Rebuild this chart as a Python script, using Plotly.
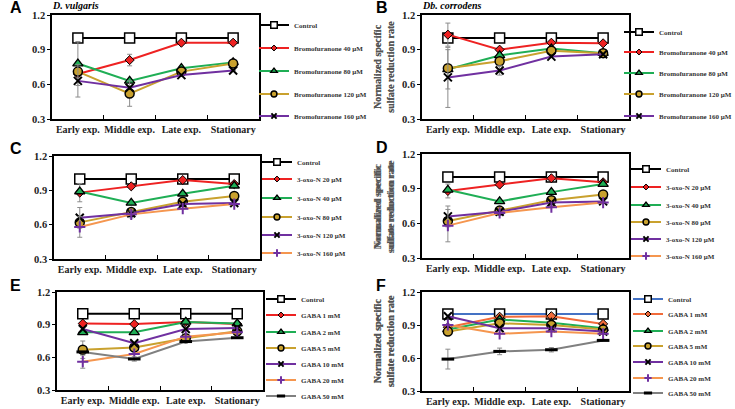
import math
import plotly.graph_objects as go

W, H = 735, 409
NaN = float("nan")

categories = ["Early exp.", "Middle exp.", "Late exp.", "Stationary"]
y_ticks = [0.3, 0.6, 0.9, 1.2]

# Panel A - D. vulgaris, bromofuranone
A_names = ["Control", "Bromofuranone 40 µM", "Bromofuranone 80 µM", "Bromofuranone 120 µM", "Bromofuranone 160 µM"]
A_control = [1.0, 1.0, 1.0, 1.0]
A_b40 = [0.69, 0.81, 0.96, 0.96]
A_b80 = [0.78, 0.63, 0.74, 0.79]
A_b120 = [0.71, 0.52, 0.71, 0.78]
A_b160 = [0.63, 0.57, 0.68, 0.72]
A_err_b40 = [NaN, 0.05, NaN, NaN]
A_err_b80 = [0.19, NaN, NaN, NaN]
A_err_b120 = [NaN, 0.11, NaN, NaN]
A_err_b160 = [0.14, NaN, NaN, NaN]

# Panel B - Db. corrodens, bromofuranone
B_names = A_names
B_control = [1.0, 1.0, 1.0, 1.0]
B_b40 = [1.03, 0.90, 0.96, 0.955]
B_b80 = [0.73, 0.85, 0.91, 0.87]
B_b120 = [0.74, 0.80, 0.89, 0.87]
B_b160 = [0.66, 0.72, 0.84, 0.86]
B_err_b40 = [0.10, NaN, NaN, NaN]
B_err_b80 = [0.17, NaN, NaN, NaN]
B_err_b160 = [0.26, 0.04, NaN, NaN]

# Panel C - 3-oxo-N
C_names = ["Control", "3-oxo-N 20 µM", "3-oxo-N 40 µM", "3-oxo-N 80 µM", "3-oxo-N 120 µM", "3-oxo-N 160 µM"]
C_control = [1.0, 1.0, 1.0, 1.0]
C_o20 = [0.88, 0.935, 0.99, 0.955]
C_o40 = [0.89, 0.79, 0.87, 0.94]
C_o80 = [0.62, 0.71, 0.80, 0.85]
C_o120 = [0.66, 0.70, 0.78, 0.79]
C_o160 = [0.58, 0.69, 0.74, 0.78]
C_err_o20 = [0.08, 0.02, NaN, NaN]
C_err_o120 = [0.09, NaN, NaN, NaN]
C_err_o160 = [0.09, 0.03, NaN, NaN]

# Panel D - 3-oxo-N
D_names = C_names
D_control = [1.0, 1.0, 1.0, 1.0]
D_o20 = [0.88, 0.935, 0.99, 0.955]
D_o40 = [0.89, 0.79, 0.87, 0.94]
D_o80 = [0.62, 0.71, 0.80, 0.85]
D_o120 = [0.66, 0.70, 0.78, 0.79]
D_o160 = [0.58, 0.69, 0.74, 0.78]
D_err_o20 = [0.06, NaN, NaN, NaN]
D_err_o120 = [0.09, NaN, NaN, NaN]
D_err_o160 = [0.14, NaN, NaN, NaN]

# Panel E - GABA
E_names = ["Control", "GABA 1 mM", "GABA 2 mM", "GABA 5 mM", "GABA 10 mM", "GABA 20 mM", "GABA 50 mM"]
E_control = [1.0, 1.0, 1.0, 1.0]
E_g1 = [0.91, 0.905, 0.925, 0.905]
E_g2 = [0.83, 0.83, 0.925, 0.91]
E_g5 = [0.67, 0.69, 0.775, 0.84]
E_g10 = [0.86, 0.73, 0.86, 0.87]
E_g20 = [0.56, 0.63, 0.79, 0.83]
E_g50 = [0.65, 0.585, 0.745, 0.78]
E_err_g5 = [0.08, NaN, NaN, NaN]
E_err_g20 = [0.06, NaN, NaN, NaN]
E_err_g50 = [NaN, 0.02, NaN, NaN]

# Panel F - GABA
F_names = E_names
F_control = [1.0, 1.0, 1.0, 1.0]
F_g1 = [0.88, 0.975, 0.98, 0.91]
F_g2 = [0.86, 0.95, 0.92, 0.87]
F_g5 = [0.84, 0.915, 0.90, 0.86]
F_g10 = [0.98, 0.87, 0.87, 0.84]
F_g20 = [0.90, 0.82, 0.84, 0.82]
F_g50 = [0.59, 0.66, 0.675, 0.76]
F_err_g50 = [0.09, 0.03, 0.02, NaN]

RED = "#EE2222"
GREEN = "#1FAE55"
GOLD = "#C9A12E"
PURPLE = "#7030A0"
ORANGE = "#F5964F"
GRAY = "#808080"
BLACK = "#000000"
BLUE = "#4472C4"

SERIF = "Liberation Serif"


def mk(kind, fill, scale=1.0):
    if kind == "square":
        return dict(symbol="square", size=10 * scale, color="white", line=dict(color=BLACK, width=1.5))
    if kind == "diamond":
        return dict(symbol="diamond", size=7 * scale, color=fill, line=dict(color=BLACK, width=1))
    if kind == "triangle":
        return dict(symbol="triangle-up", size=9 * scale, color=fill, line=dict(color=BLACK, width=1.3))
    if kind == "circle":
        return dict(symbol="circle", size=9 * scale, color=fill, line=dict(color=BLACK, width=1.5))
    if kind == "x":
        return dict(symbol="x-thin", size=8 * scale, color=BLACK, line=dict(color=BLACK, width=2))
    if kind == "cross":
        return dict(symbol="cross-thin", size=8 * scale, color=PURPLE, line=dict(color=PURPLE, width=2))
    if kind == "dash":
        return dict(symbol="line-ew", size=9 * scale, color=BLACK, line=dict(color=BLACK, width=3))


panels = [
    dict(key="A", box=(52, 259, 15, 119), legend_x=254, legend_y=[25, 48, 71, 94, 116],
         series=[(A_names[0], A_control, None, BLACK, "square"),
                 (A_names[1], A_b40, A_err_b40, RED, "diamond"),
                 (A_names[2], A_b80, A_err_b80, GREEN, "triangle"),
                 (A_names[3], A_b120, A_err_b120, GOLD, "circle"),
                 (A_names[4], A_b160, A_err_b160, PURPLE, "x")]),
    dict(key="B", box=(422, 629, 15, 119), legend_x=619, legend_y=[32, 52, 73, 94, 116],
         series=[(B_names[0], B_control, None, BLACK, "square"),
                 (B_names[1], B_b40, B_err_b40, RED, "diamond"),
                 (B_names[2], B_b80, B_err_b80, GREEN, "triangle"),
                 (B_names[3], B_b120, None, GOLD, "circle"),
                 (B_names[4], B_b160, B_err_b160, PURPLE, "x")]),
    dict(key="C", box=(54, 260, 156, 259), legend_x=257, legend_y=[162, 179, 198, 217, 235, 253],
         series=[(C_names[0], C_control, None, BLACK, "square"),
                 (C_names[1], C_o20, C_err_o20, RED, "diamond"),
                 (C_names[2], C_o40, None, GREEN, "triangle"),
                 (C_names[3], C_o80, None, GOLD, "circle"),
                 (C_names[4], C_o120, C_err_o120, PURPLE, "x"),
                 (C_names[5], C_o160, C_err_o160, ORANGE, "cross")]),
    dict(key="D", box=(422, 629, 154, 258), legend_x=626, legend_y=[169, 187, 205, 222, 239, 256],
         series=[(D_names[0], D_control, None, BLACK, "square"),
                 (D_names[1], D_o20, D_err_o20, RED, "diamond"),
                 (D_names[2], D_o40, None, GREEN, "triangle"),
                 (D_names[3], D_o80, None, GOLD, "circle"),
                 (D_names[4], D_o120, D_err_o120, PURPLE, "x"),
                 (D_names[5], D_o160, D_err_o160, ORANGE, "cross")]),
    dict(key="E", box=(57, 263, 292, 390), legend_x=261, legend_y=[299, 315, 332, 348, 364, 380, 396],
         series=[(E_names[0], E_control, None, BLACK, "square"),
                 (E_names[1], E_g1, None, RED, "diamond"),
                 (E_names[2], E_g2, None, GREEN, "triangle"),
                 (E_names[3], E_g5, E_err_g5, GOLD, "circle"),
                 (E_names[4], E_g10, None, PURPLE, "x"),
                 (E_names[5], E_g20, E_err_g20, ORANGE, "cross"),
                 (E_names[6], E_g50, E_err_g50, GRAY, "dash")]),
    dict(key="F", box=(422, 629, 292, 391), legend_x=628, legend_y=[299, 314, 331, 346, 362, 378, 393],
         series=[(F_names[0], F_control, None, BLUE, "square"),
                 (F_names[1], F_g1, None, "#F26B3A", "diamond"),
                 (F_names[2], F_g2, None, GREEN, "triangle"),
                 (F_names[3], F_g5, None, GOLD, "circle"),
                 (F_names[4], F_g10, None, PURPLE, "x"),
                 (F_names[5], F_g20, None, ORANGE, "cross"),
                 (F_names[6], F_g50, F_err_g50, GRAY, "dash")]),
]

fig = go.Figure()
layout = dict(
    width=W, height=H, autosize=False,
    margin=dict(l=0, r=0, t=0, b=0, autoexpand=False),
    paper_bgcolor="white", plot_bgcolor="white",
    showlegend=True,
    font=dict(family=SERIF, color=BLACK),
)
annotations = []
leg_idx = 0

for pi, p in enumerate(panels):
    ax = "" if pi == 0 else str(pi + 1)
    x0, x1, y0, y1 = p["box"]
    layout["xaxis" + ax] = dict(
        domain=[x0 / W, x1 / W], anchor="y" + ax, type="category",
        categoryorder="array", categoryarray=categories,
        range=[-0.5, 3.5], tickson="boundaries", ticks="inside", ticklen=4,
        tickcolor=BLACK, tickwidth=1, tickangle=0, automargin=False,
        showline=True, linecolor=BLACK, linewidth=1.5, mirror=True,
        showgrid=False, zeroline=False,
        tickfont=dict(family=SERIF, size=10, color="#222222", weight="bold"),
        fixedrange=True,
    )
    layout["yaxis" + ax] = dict(
        domain=[1 - y1 / H, 1 - y0 / H], anchor="x" + ax,
        range=[0.3, 1.2], tickvals=y_ticks, tickformat=".1f",
        ticks="outside", ticklen=3, tickcolor=BLACK, automargin=False,
        showline=True, linecolor=BLACK, linewidth=1.5, mirror=True,
        showgrid=False, zeroline=False,
        tickfont=dict(family=SERIF, size=10.5, color="#222222", weight="bold"),
        title=dict(text="Normalized specific<br>sulfate reduction rate",
                   font=dict(family=SERIF, size=10, color="#555555", weight="bold"),
                   standoff=6),
        fixedrange=True,
    )
    for si, (name, vals, err, color, kind) in enumerate(p["series"]):
        leg_idx += 1
        lname = "legend" if leg_idx == 1 else "legend%d" % leg_idx
        tr = dict(
            x=categories, y=vals, name=name, mode="lines+markers",
            xaxis="x" + ax, yaxis="y" + ax,
            line=dict(color=color, width=2),
            marker=mk(kind, color),
            showlegend=False,
            hoverinfo="name+y",
        )
        if err is not None:
            tr["error_y"] = dict(type="data", array=err, visible=True,
                                 color="#8C8C8C", thickness=1, width=2.5)
        fig.add_trace(go.Scatter(**tr))
        # legend entry with smaller symbol (no data drawn)
        fig.add_trace(go.Scatter(
            x=[None], y=[None], name=name, mode="lines+markers",
            xaxis="x" + ax, yaxis="y" + ax,
            line=dict(color=color, width=2),
            marker=mk(kind, color, 0.65),
            legend=lname, showlegend=True, hoverinfo="skip",
        ))
        layout[lname] = dict(
            x=p["legend_x"] / W, y=1 - p["legend_y"][si] / H,
            xref="container", yref="container",
            xanchor="left", yanchor="middle",
            bgcolor="rgba(0,0,0,0)", borderwidth=0,
            font=dict(family=SERIF, size=7, color="#333333", weight="bold"),
            itemclick=False, itemdoubleclick=False,
        )
    # panel letter
    lx = 8 if p["key"] in "ACE" else 374
    annotations.append(dict(text="<b>%s</b>" % p["key"], x=lx / W, y=1 - (y0 - 7) / H,
                            xref="paper", yref="paper", xanchor="left", yanchor="middle",
                            showarrow=False,
                            font=dict(family="Liberation Sans", size=16, color=BLACK)))

annotations.append(dict(text="<b><i>D. vulgaris</i></b>", x=50 / W, y=1 - 6 / H,
                        xref="paper", yref="paper", xanchor="left", yanchor="middle",
                        showarrow=False, font=dict(family=SERIF, size=10, color=BLACK)))
annotations.append(dict(text="<b><i>Db. corrodens</i></b>", x=420 / W, y=1 - 6 / H,
                        xref="paper", yref="paper", xanchor="left", yanchor="middle",
                        showarrow=False, font=dict(family=SERIF, size=10, color=BLACK)))

layout["annotations"] = annotations
fig.update_layout(**layout)
fig.write_html("out.html",
               config={"displayModeBar": False},
               post_script="document.body.style.margin='0';document.body.style.padding='0';")
